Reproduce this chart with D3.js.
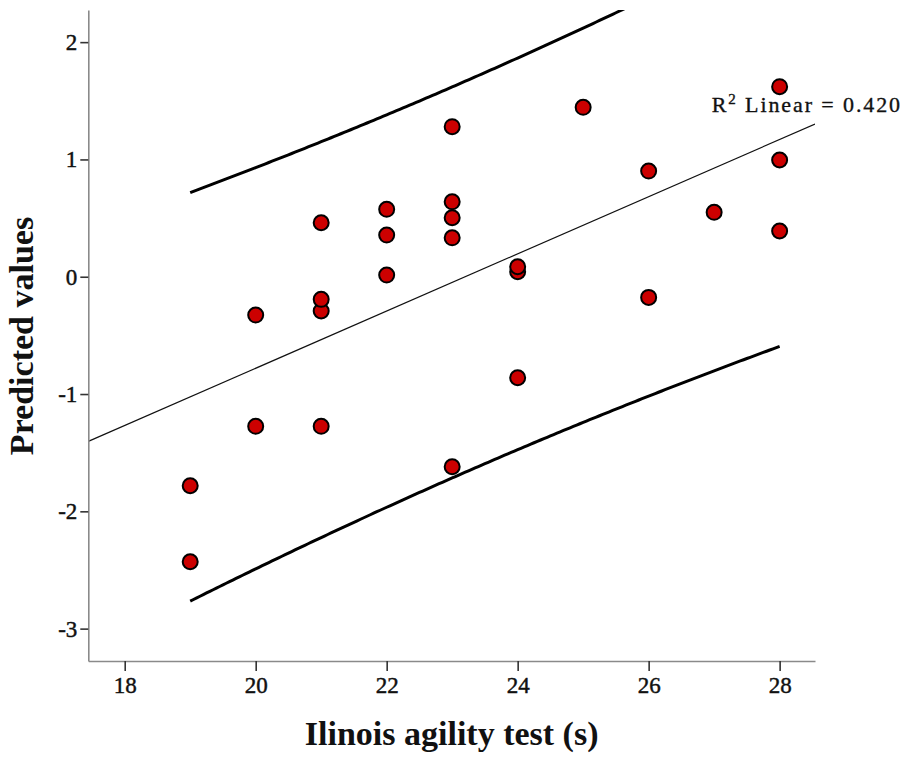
<!DOCTYPE html>
<html>
<head>
<meta charset="utf-8">
<script src="https://cdn.jsdelivr.net/npm/d3@7"></script>
<style>
  html, body { margin: 0; padding: 0; background: #fff; }
  svg { display: block; }
  text { font-family: "Liberation Serif", "Times New Roman", serif; fill: #111; }
</style>
</head>
<body>
<svg id="chart" width="908" height="757"></svg>
<script>
// ---- data ----
const agility = [19, 19, 20, 20, 21, 21, 21, 21, 22, 22, 22, 23, 23, 23, 23, 23, 24, 24, 24, 25, 26, 26, 27, 28, 28, 28];
const predicted = [-1.782, -2.43, -0.327, -1.275, 0.46, -1.275, -0.292, -0.193, 0.575, 0.355, 0.014, 1.279, 0.639, 0.503, 0.332, -1.62, -0.861, 0.043, 0.085, 1.444, 0.901, -0.176, 0.549, 1.62, 0.995, 0.39];
const xTicks = [18, 20, 22, 24, 26, 28];
const yTicks = [-3, -2, -1, 0, 1, 2];
const xDomain = [17.444, 28.54];
const yDomain = [-3.276, 2.274];
const xTitle = "Ilinois agility test (s)";
const yTitle = "Predicted values";
const r2Label = "0.420";
const tCrit = 2.064; // t(0.975, df = 24)

// ---- layout ----
const pL = 88.3, pR = 815, pT = 10, pB = 661;
const svg = d3.select("#chart");
const x = d3.scaleLinear().domain(xDomain).range([pL, pR]);
const y = d3.scaleLinear().domain(yDomain).range([pB, pT]);

// ---- regression (least squares) from the data ----
const n = agility.length;
const mx = d3.mean(agility), my = d3.mean(predicted);
const sxx = d3.sum(agility, v => (v - mx) ** 2);
const sxy = d3.sum(agility.map((v, i) => (v - mx) * (predicted[i] - my)));
const slope = sxy / sxx, icpt = my - slope * mx;
const sse = d3.sum(agility.map((v, i) => (predicted[i] - (icpt + slope * v)) ** 2));
const sRes = Math.sqrt(sse / (n - 2));
const fit = v => icpt + slope * v;
const half = v => tCrit * sRes * Math.sqrt(1 + 1 / n + (v - mx) ** 2 / sxx);

svg.append("defs").append("clipPath").attr("id", "plotClip")
  .append("rect").attr("x", pL).attr("y", pT).attr("width", pR - pL).attr("height", pB - pT);

const xMin = d3.min(agility), xMax = d3.max(agility);
const bandX = d3.range(xMin, xMax + 0.0001, 0.05);
const line = d3.line().x(d => x(d[0])).y(d => y(d[1]));
const g = svg.append("g").attr("clip-path", "url(#plotClip)");

g.append("path").datum(bandX.map(v => [v, fit(v) + half(v)]))
  .attr("d", line).attr("fill", "none").attr("stroke", "#000").attr("stroke-width", 3);
g.append("path").datum(bandX.map(v => [v, fit(v) - half(v)]))
  .attr("d", line).attr("fill", "none").attr("stroke", "#000").attr("stroke-width", 3);
g.append("path").datum([[xDomain[0], fit(xDomain[0])], [xDomain[1], fit(xDomain[1])]])
  .attr("d", line).attr("fill", "none").attr("stroke", "#111").attr("stroke-width", 1.2);

// ---- axes ----
const xAxis = svg.append("g").attr("transform", `translate(0,${pB})`)
  .call(d3.axisBottom(x).tickValues(xTicks).tickSize(10).tickSizeOuter(0).tickPadding(6).tickFormat(d3.format("d")));
const yAxis = svg.append("g").attr("transform", `translate(${pL},0)`)
  .call(d3.axisLeft(y).tickValues(yTicks).tickSize(8).tickSizeOuter(0).tickPadding(3).tickFormat(d => d < 0 ? "-" + Math.abs(d) : d));
[xAxis, yAxis].forEach(a => {
  a.select(".domain").attr("stroke", "#8a8a8a").attr("stroke-width", 1.6);
  a.selectAll(".tick line").attr("stroke", "#333").attr("stroke-width", 1.6);
  a.selectAll(".tick text").attr("font-family", "Liberation Serif").attr("font-size", 23)
    .attr("fill", "#111").attr("stroke", "#111").attr("stroke-width", 0.45);
});

// ---- points ----
svg.append("g").selectAll("circle").data(agility).join("circle")
  .attr("cx", d => x(d)).attr("cy", (d, i) => y(predicted[i]))
  .attr("r", 7.5).attr("fill", "#cc0000").attr("stroke", "#000").attr("stroke-width", 2);

// ---- titles ----
svg.append("text").attr("x", (pL + pR) / 2).attr("y", 745)
  .attr("text-anchor", "middle").attr("font-weight", "bold").attr("font-size", 34).text(xTitle);
svg.append("text").attr("transform", `translate(33,336) rotate(-90)`)
  .attr("text-anchor", "middle").attr("font-weight", "bold").attr("font-size", 34).text(yTitle);

// ---- R² label ----
const lab = svg.append("text").attr("x", 902).attr("y", 112).attr("text-anchor", "end")
  .attr("font-size", 22).attr("letter-spacing", 1.9).attr("stroke", "#111").attr("stroke-width", 0.35);
lab.append("tspan").text("R");
lab.append("tspan").attr("dy", -8).attr("font-size", 15).text("2");
lab.append("tspan").attr("dy", 8).text(" Linear = " + r2Label);
</script>
</body>
</html>
